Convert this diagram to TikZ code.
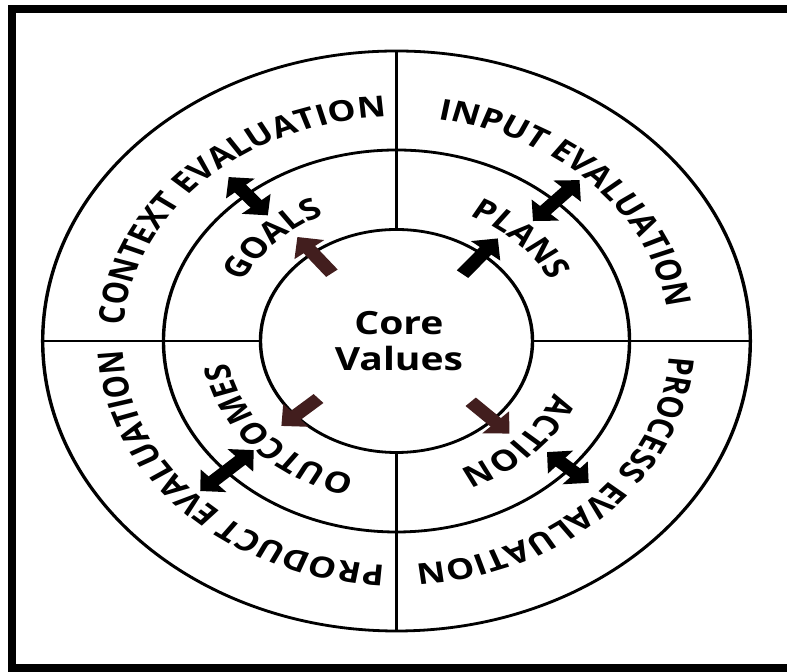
\documentclass[tikz,border=0pt]{standalone}
\usepackage{fontspec}
\setmainfont{Open Sans}
\usetikzlibrary{arrows.meta,decorations.text}

\definecolor{arrowbrown}{RGB}{66,30,30}
\newcommand{\ringfont}{\fontsize{14.5}{16}\selectfont\bfseries}

\begin{document}
\begin{tikzpicture}[
  x=0.5pt, y=0.5pt,
  ring/.style={draw, circle, line width=1.4pt, inner sep=0pt, outer sep=0pt},
  divider/.style={line width=1pt},
  frame/.style={line width=4pt},
  ringtext/.style={decorate, decoration={text along path, text align=center, text={#1}}},
  corearr/.style={line width=6pt, -{Triangle[length=8pt, width=15pt]}},
  linkarr/.style={line width=6pt, {Triangle[length=7.5pt, width=15pt]}-{Triangle[length=7.5pt, width=15pt]}}
]
\useasboundingbox (-396.5,-331) rectangle (390.5,341);
\draw[frame] (390.5,332) -- (-384,332) -- (-384,-327.5) -- (390.5,-327.5);

\begin{scope}[transform canvas={xscale=1.22}]
% the three rings
\node[ring, minimum size=290pt] (outer) at (0,0) {};
\node[ring, minimum size=191pt] (middle) at (0,0) {};
\node[ring, minimum size=111.5pt] (inner) at (0,0) {};
\node[font=\fontsize{16}{18}\selectfont\bfseries, align=center] (core) at (2,0) {Core\\Values};

% quadrant lines
\draw[divider] (outer.north) -- (inner.north);
\draw[divider] (outer.south) -- (inner.south);
\draw[divider] (outer.west) -- (inner.west);
\draw[divider] (outer.east) -- (inner.east);

% outer ring labels
\path[ringtext={|\ringfont|CONTEXT EVALUATION}] (195:224) arc[start angle=195, end angle=73, radius=224];
\path[ringtext={|\ringfont|INPUT EVALUATION}] (105:224) arc[start angle=105, end angle=-15, radius=224];
\path[ringtext={|\ringfont|PROCESS EVALUATION}] (15:224) arc[start angle=15, end angle=-105, radius=224];
\path[ringtext={|\ringfont|PRODUCT EVALUATION}] (285:224) arc[start angle=285, end angle=165, radius=224];

% middle ring labels
\path[ringtext={|\ringfont|GOALS}] (180:139) arc[start angle=180, end angle=90, radius=139];
\path[ringtext={|\ringfont|PLANS}] (90:139) arc[start angle=90, end angle=0, radius=139];
\path[ringtext={|\ringfont|ACTION}] (0:139) arc[start angle=0, end angle=-90, radius=139];
\path[ringtext={|\ringfont|OUTCOMES}] (270:139) arc[start angle=270, end angle=175, radius=139];

% arrow ends
\coordinate (goalsIn) at (128:86);
\coordinate (goalsOut) at (128:132);
\coordinate (plansIn) at (51:86);
\coordinate (plansOut) at (51:132);
\coordinate (actionIn) at (-45:86);
\coordinate (actionOut) at (-45:131);
\coordinate (outcomesIn) at (222:86);
\coordinate (outcomesOut) at (222:127);
\coordinate (contextIn) at (130:164);
\coordinate (contextOut) at (130:214);
\coordinate (inputIn) at (47:164);
\coordinate (inputOut) at (47:220);
\coordinate (processIn) at (-42:166);
\coordinate (processOut) at (-42:212);
\coordinate (productIn) at (223:160);
\coordinate (productOut) at (223:220);

% core arrows
\draw[corearr, arrowbrown] (goalsIn) -- (goalsOut);
\draw[corearr, black] (plansIn) -- (plansOut);
\draw[corearr, arrowbrown] (actionIn) -- (actionOut);
\draw[corearr, arrowbrown] (outcomesIn) -- (outcomesOut);

% evaluation arrows
\draw[linkarr, black] (contextIn) -- (contextOut);
\draw[linkarr, black] (inputIn) -- (inputOut);
\draw[linkarr, black] (processIn) -- (processOut);
\draw[linkarr, black] (productIn) -- (productOut);
\end{scope}
\end{tikzpicture}
\end{document}
